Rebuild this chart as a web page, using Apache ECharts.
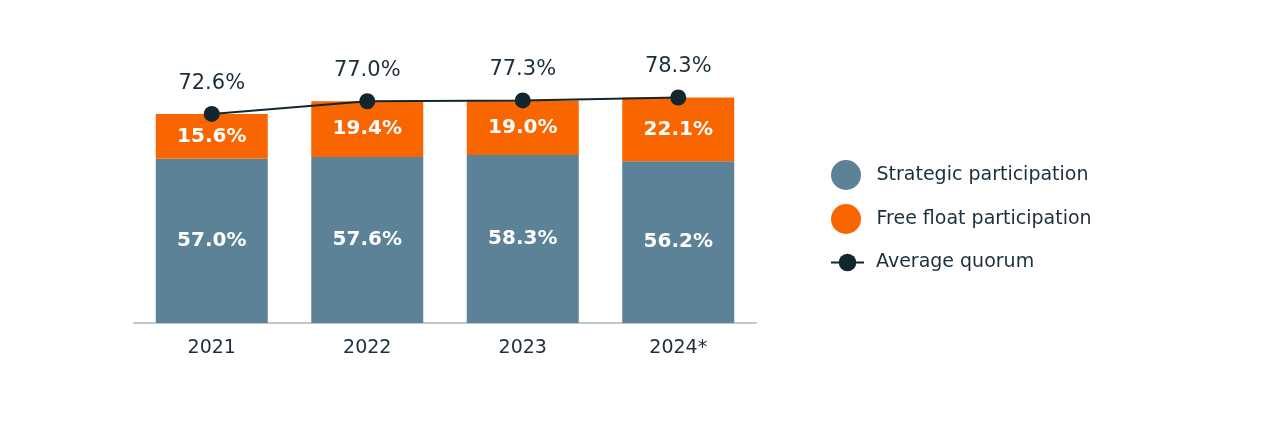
<!DOCTYPE html>
<html><head><meta charset="utf-8">
<script src="https://cdn.jsdelivr.net/npm/echarts@6/dist/echarts.min.js"></script>
<style>html,body{margin:0;padding:0;background:#fff}#c{width:1280px;height:424px}</style>
</head><body><div id="c"></div>
<script>
const categories = ['2021', '2022', '2023', '2024*'];
const strategic = [57.0, 57.6, 58.3, 56.2];
const freeFloat = [15.6, 19.4, 19.0, 22.1];
const quorum = [72.6, 77.0, 77.3, 78.3];

const FONT = '"DejaVu Sans", sans-serif';
const chart = echarts.init(document.getElementById('c'));
chart.setOption({
  animation: false,
  textStyle: { fontFamily: FONT },
  grid: { left: 134, right: 524, top: 35, bottom: 101 },
  legend: [
    {
      left: 826, top: 155, orient: 'vertical', itemGap: 14,
      itemWidth: 33, itemHeight: 30,
      textStyle: { fontFamily: FONT, fontSize: 19, color: '#1c2f3a', padding: [0, 0, 0, 9] },
      data: [
        { name: 'Strategic participation', icon: 'circle' },
        { name: 'Free float participation', icon: 'circle' }
      ]
    },
    {
      left: 825, top: 248, orient: 'vertical',
      itemWidth: 33, itemHeight: 22,
      textStyle: { fontFamily: FONT, fontSize: 19, color: '#1c2f3a', padding: [0, 0, 0, 7] },
      data: [{ name: 'Average quorum' }]
    }
  ],
  xAxis: {
    type: 'category', data: categories,
    axisLine: { lineStyle: { color: '#c3c7ca', width: 2 } },
    axisTick: { show: false },
    axisLabel: { fontFamily: FONT, fontSize: 19, color: '#1c2f3a', margin: 16 }
  },
  yAxis: { type: 'value', min: 0, max: 100, show: false, splitLine: { show: false } },
  series: [
    {
      name: 'Strategic participation', type: 'bar', stack: 's', data: strategic,
      barWidth: 112, itemStyle: { color: '#5b8296' },
      label: { show: true, position: 'inside', formatter: p => p.value.toFixed(1) + '%',
        color: '#fff', fontWeight: 'bold', fontSize: 20, fontFamily: FONT }
    },
    {
      name: 'Free float participation', type: 'bar', stack: 's', data: freeFloat,
      barWidth: 112, itemStyle: { color: '#f96600' },
      label: { show: true, position: 'inside', formatter: p => p.value.toFixed(1) + '%',
        color: '#fff', fontWeight: 'bold', fontSize: 20, fontFamily: FONT }
    },
    {
      name: 'Average quorum', type: 'line', data: quorum, z: 5,
      symbol: 'circle', symbolSize: 16,
      lineStyle: { color: '#12262f', width: 2 },
      itemStyle: { color: '#12262f' },
      label: { show: true, position: 'top', distance: 12, formatter: p => p.value.toFixed(1) + '%',
        color: '#1c2f3a', fontSize: 21, fontFamily: FONT }
    }
  ]
});
</script></body></html>
